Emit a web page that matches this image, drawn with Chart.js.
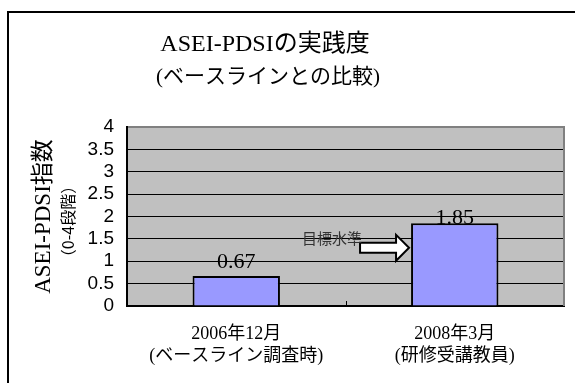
<!DOCTYPE html>
<html><head><meta charset="utf-8">
<script src="https://cdn.jsdelivr.net/npm/chart.js@4/dist/chart.umd.min.js"></script>
<style>
html,body{margin:0;padding:0;background:#fff;}
#wrap{position:relative;width:575px;height:383px;overflow:hidden;}
#frame{position:absolute;left:7px;top:11px;width:620px;height:420px;border:2px solid #000;box-sizing:border-box;}
canvas{position:absolute;left:0;top:0;}
</style></head><body>
<div id="wrap"><div id="frame"></div><canvas id="c" width="575" height="383"></canvas></div>
<script>
// Practice level survey: baseline vs. after training
const categories = [['2006年12月', '(ベースライン調査時)'], ['2008年3月', '(研修受講教員)']];
const values = [0.67, 1.85];
const yTickLabels = ['0', '0.5', '1', '1.5', '2', '2.5', '3', '3.5', '4'];
const targetLevel = 1.3;
const targetLabel = '目標水準';
const titleText = 'ASEI-PDSIの実践度';
const subtitleText = '(ベースラインとの比較)';
const yTitle = 'ASEI-PDSI指数';
const ySubTitle = '（0-4段階）';

const SERIF = "'Liberation Serif', 'Noto Sans CJK JP', serif";

const plotDecor = {
  id: 'plotDecor',
  beforeDraw(chart) {
    const { ctx, chartArea: a } = chart;
    ctx.save();
    ctx.fillStyle = '#C0C0C0';
    ctx.fillRect(a.left, a.top, a.right - a.left, a.bottom - a.top);
    ctx.restore();
  },
  beforeDatasetsDraw(chart) {
    const { ctx, chartArea: a, scales } = chart;
    ctx.save();
    // right edge of plot frame
    ctx.strokeStyle = '#808080';
    ctx.lineWidth = 2;
    ctx.beginPath();
    ctx.moveTo(a.right, a.top - 1);
    ctx.lineTo(a.right, a.bottom);
    ctx.stroke();
    // inward tick marks between categories
    ctx.strokeStyle = '#000';
    ctx.lineWidth = 1;
    for (let i = 0; i < categories.length - 1; i++) {
      const x = Math.round(scales.x.getPixelForValue(i + 0.5)) + 0.5;
      ctx.beginPath();
      ctx.moveTo(x, a.bottom);
      ctx.lineTo(x, a.bottom - 5);
      ctx.stroke();
    }
    ctx.restore();
  },
  afterDatasetsDraw(chart) {
    const { ctx, scales } = chart;
    const meta = chart.getDatasetMeta(0);
    const offsets = [-3, 6];
    ctx.save();
    ctx.fillStyle = '#000';
    ctx.font = '22px ' + SERIF;
    ctx.textAlign = 'center';
    ctx.textBaseline = 'bottom';
    meta.data.forEach((bar, i) => {
      ctx.fillText(values[i].toFixed(2), bar.x, bar.y + offsets[i]);
    });

    // target level arrow pointing at the second bar
    const bar = meta.data[1];
    const tipX = bar.x - bar.width / 2 - 2;
    const y = scales.y.getPixelForValue(targetLevel);
    const headX = tipX - 13;
    const tailX = tipX - 49;
    ctx.beginPath();
    ctx.moveTo(tailX, y - 5);
    ctx.lineTo(headX, y - 5);
    ctx.lineTo(headX, y - 13);
    ctx.lineTo(tipX, y);
    ctx.lineTo(headX, y + 13);
    ctx.lineTo(headX, y + 5);
    ctx.lineTo(tailX, y + 5);
    ctx.closePath();
    ctx.fillStyle = '#fff';
    ctx.fill();
    ctx.strokeStyle = '#000';
    ctx.lineWidth = 2;
    ctx.stroke();

    ctx.fillStyle = '#333';
    ctx.font = "15px 'Noto Sans CJK JP', sans-serif";
    ctx.textAlign = 'right';
    ctx.textBaseline = 'middle';
    ctx.fillText(targetLabel, tailX + 2, y - 10);
    ctx.restore();
  },
  afterDraw(chart) {
    const { ctx, chartArea: a } = chart;
    ctx.save();
    ctx.fillStyle = '#000';
    ctx.textAlign = 'center';
    ctx.textBaseline = 'middle';
    ctx.font = '24px ' + SERIF;
    ctx.fillText(titleText, 265, 45);
    ctx.font = '21px ' + SERIF;
    ctx.fillText(subtitleText, 268, 77);

    const cy = (a.top + a.bottom) / 2;
    ctx.translate(44, cy);
    ctx.rotate(-Math.PI / 2);
    ctx.font = '23px ' + SERIF;
    ctx.fillText(yTitle, 0, 0);
    ctx.rotate(Math.PI / 2);
    ctx.translate(24, 5);
    ctx.rotate(-Math.PI / 2);
    ctx.font = "16px 'Noto Sans CJK JP', sans-serif";
    ctx.fillText(ySubTitle, 0, 0);
    ctx.restore();
  }
};

new Chart(document.getElementById('c'), {
  type: 'bar',
  data: {
    labels: categories,
    datasets: [{
      data: values,
      backgroundColor: '#9999FF',
      borderColor: '#000',
      borderWidth: 2,
      barPercentage: 0.4,
      categoryPercentage: 1.0
    }]
  },
  options: {
    responsive: false,
    animation: false,
    devicePixelRatio: 1,
    layout: { padding: { left: 0, top: 127, right: 11, bottom: 0 } },
    plugins: { legend: { display: false }, tooltip: { enabled: false }, title: { display: false } },
    scales: {
      x: {
        grid: { display: false, drawTicks: false },
        border: { display: true, color: '#000', width: 2 },
        ticks: {
          color: '#000',
          font: { family: SERIF, size: 18, lineHeight: 1.25 },
          padding: 17,
          maxRotation: 0,
          autoSkip: false
        },
        afterFit(scale) { scale.height = 77; }
      },
      y: {
        min: 0,
        max: 4,
        grid: {
          drawTicks: false,
          color: ctx => (ctx.tick && ctx.tick.value === 4 ? '#808080' : '#000'),
          lineWidth: ctx => (ctx.tick && ctx.tick.value === 4 ? 2 : 1)
        },
        border: { display: true, color: '#000', width: 2 },
        ticks: {
          stepSize: 0.5,
          autoSkip: false,
          color: '#000',
          padding: 13,
          font: { family: "'Liberation Sans Narrow', 'Liberation Sans', sans-serif", size: 19 },
          callback: (v, i) => yTickLabels[i]
        },
        afterFit(scale) { scale.width = 127; }
      }
    }
  },
  plugins: [plotDecor]
});
</script>
</body></html>
